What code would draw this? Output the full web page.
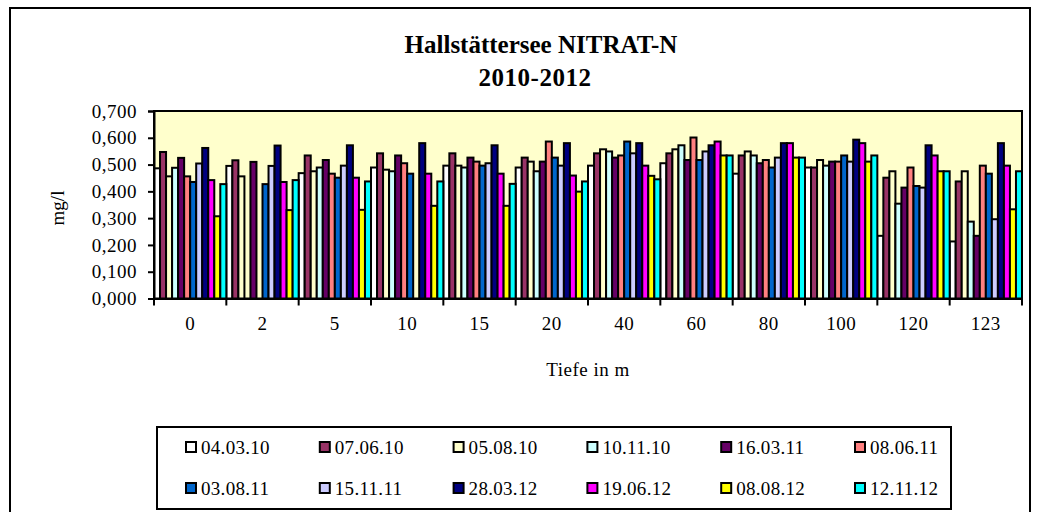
<!DOCTYPE html>
<html>
<head>
<meta charset="utf-8">
<script src="https://cdn.jsdelivr.net/npm/d3@7"></script>
<style>
  body { margin: 0; background: #fff; }
  text { font-family: "Liberation Serif", "Times New Roman", serif; fill: #000; }
</style>
</head>
<body>
<div id="container"></div>
<script>
// depths (x categories) and sampling dates (series)
const depths = ["0", "2", "5", "10", "15", "20", "40", "60", "80", "100", "120", "123"];
const dates = ["04.03.10", "07.06.10", "05.08.10", "10.11.10", "16.03.11", "08.06.11",
  "03.08.11", "15.11.11", "28.03.12", "19.06.12", "08.08.12", "12.11.12"];

// NO3-N in mg/l, one array per date (null = not measured)
const v040310 = [0.486, 0.495, 0.468, 0.489, 0.496, 0.489, 0.496, 0.505, 0.466, 0.489, 0.234, 0.213];
const v070610 = [0.547, 0.516, 0.534, 0.542, 0.542, 0.526, 0.542, 0.542, 0.534, 0.489, 0.451, 0.437];
const v050810 = [0.456, 0.456, 0.475, 0.481, 0.496, 0.511, 0.557, 0.557, 0.549, 0.517, 0.475, 0.475];
const v101110 = [0.488, null, 0.489, 0.475, 0.489, 0.475, 0.549, 0.572, 0.534, 0.496, 0.354, 0.287];
const v160311 = [0.525, 0.510, 0.517, 0.534, 0.526, 0.511, 0.526, 0.517, 0.505, 0.511, 0.414, 0.234];
const v080611 = [0.456, null, 0.466, 0.505, 0.511, 0.586, 0.534, 0.601, 0.517, 0.511, 0.489, 0.496];
const v030811 = [0.435, 0.427, 0.451, 0.466, 0.496, 0.526, 0.586, 0.517, 0.489, 0.534, 0.420, 0.466];
const v151111 = [0.504, 0.495, 0.496, null, 0.505, 0.496, 0.542, 0.549, 0.526, 0.511, 0.414, 0.296];
const v280312 = [0.562, 0.571, 0.572, 0.580, 0.572, 0.580, 0.580, 0.572, 0.580, 0.593, 0.572, 0.580];
const v190612 = [0.442, 0.435, 0.451, 0.466, 0.466, 0.459, 0.496, 0.586, 0.580, 0.580, 0.534, 0.496];
const v080812 = [0.307, 0.330, 0.331, 0.346, 0.346, 0.399, 0.458, 0.534, 0.526, 0.511, 0.475, 0.333];
const v121112 = [0.427, 0.442, 0.437, 0.437, 0.428, 0.437, 0.445, 0.534, 0.526, 0.534, 0.475, 0.475];

const yTicks = [0, 0.1, 0.2, 0.3, 0.4, 0.5, 0.6, 0.7];

const series = [v040310, v070610, v050810, v101110, v160311, v080611,
  v030811, v151111, v280312, v190612, v080812, v121112];

// excel default palette
const colorRange = ["#FFFFFF", "#993366", "#FFFFCC", "#CCFFFF", "#660066", "#FF8080",
  "#0066CC", "#CCCCFF", "#000080", "#FF00FF", "#FFFF00", "#00FFFF"];

const w = 1039;
const h = 512;
const plot = { left: 154, right: 1022, top: 111, bottom: 298.5 };

const svg = d3.
select("#container").
append("svg").
attr("width", w).
attr("height", h);

// outer chart frame
svg.
append("rect").
attr("x", 10).
attr("y", 8).
attr("width", 1020).
attr("height", 530).
attr("fill", "#fff").
attr("stroke", "#000").
attr("stroke-width", 2);

// title
svg.
append("text").
attr("x", 541).
attr("y", 53).
attr("text-anchor", "middle").
style("font-size", "25px").
style("font-weight", "bold").
text("Hallstättersee  NITRAT-N");

svg.
append("text").
attr("x", 535).
attr("y", 86).
attr("text-anchor", "middle").
style("font-size", "25px").
style("font-weight", "bold").
style("letter-spacing", "0.5px").
text("2010-2012");

const xScale = d3.
scaleBand().
domain(depths).
range([plot.left, plot.right]).
padding(0);

const xInner = d3.
scaleBand().
domain(dates).
range([0, xScale.bandwidth()]).
padding(0);

const yScale = d3.
scaleLinear().
domain([0, 0.7]).
range([plot.bottom, plot.top]);

// plot area
svg.
append("rect").
attr("x", plot.left).
attr("y", plot.top).
attr("width", plot.right - plot.left).
attr("height", plot.bottom - plot.top).
attr("fill", "#FFFFCC").
attr("stroke", "#000").
attr("stroke-width", 2);

// bars
const cells = [];
series.forEach((vals, s) => {
  vals.forEach((v, i) => {
    if (v !== null) cells.push({ date: dates[s], depth: depths[i], value: v, s: s });
  });
});

svg.
append("g").
selectAll("rect").
data(cells).
enter().
append("rect").
attr("x", d => xScale(d.depth) + xInner(d.date)).
attr("y", d => yScale(d.value)).
attr("width", xInner.bandwidth()).
attr("height", d => yScale(0) - yScale(d.value)).
attr("fill", d => colorRange[d.s]).
attr("stroke", "#000").
attr("stroke-width", 2);

// axes
const yAxis = d3.
axisLeft(yScale).
tickValues(yTicks).
tickSize(6).
tickFormat(d => d3.format(".3f")(d).replace(".", ","));

svg.
append("g").
attr("transform", `translate(${plot.left}, 0)`).
call(yAxis).
call(g => g.select(".domain").attr("stroke-width", 2)).
call(g => g.selectAll(".tick line").attr("stroke-width", 2)).
call(g => g.selectAll(".tick text").
attr("x", -17).
style("font-size", "19px").
style("letter-spacing", "0.5px"));

const xAxis = d3.
axisBottom(xScale).
tickSize(0).
tickPadding(18);

svg.
append("g").
attr("transform", `translate(0, ${plot.bottom})`).
call(xAxis).
call(g => g.select(".domain").attr("stroke-width", 2)).
call(g => g.selectAll(".tick text").
style("font-size", "19px").
style("letter-spacing", "0.5px"));

// category separators below the axis
svg.
append("g").
selectAll("line").
data(depths.concat(["end"])).
enter().
append("line").
attr("x1", (d, i) => i < depths.length ? xScale(d) : plot.right).
attr("x2", (d, i) => i < depths.length ? xScale(d) : plot.right).
attr("y1", plot.bottom).
attr("y2", plot.bottom + 7).
attr("stroke", "#000").
attr("stroke-width", 2);

// axis titles
svg.
append("text").
attr("x", (plot.left + plot.right) / 2).
attr("y", 376).
attr("text-anchor", "middle").
style("font-size", "19px").
style("letter-spacing", "0.5px").
text("Tiefe in m");

svg.
append("text").
attr("transform", "translate(64, 208) rotate(-90)").
attr("text-anchor", "middle").
style("font-size", "19px").
text("mg/l");

// legend
const legend = svg.
append("g");

legend.
append("rect").
attr("x", 157).
attr("y", 427).
attr("width", 794).
attr("height", 82).
attr("fill", "#fff").
attr("stroke", "#000").
attr("stroke-width", 2);

const legendItem = legend.
selectAll("g.item").
data(dates).
enter().
append("g").
attr("class", "item").
attr("transform", (d, i) => `translate(${191 + i % 6 * 133.8}, ${i < 6 ? 447 : 488})`);

legendItem.
append("rect").
attr("x", -5).
attr("y", -5).
attr("width", 10).
attr("height", 10).
attr("fill", (d, i) => colorRange[i]).
attr("stroke", "#000").
attr("stroke-width", 2);

legendItem.
append("text").
attr("x", 10).
attr("y", 7).
style("font-size", "19px").
style("letter-spacing", "0.3px").
text(d => d);
</script>
</body>
</html>
